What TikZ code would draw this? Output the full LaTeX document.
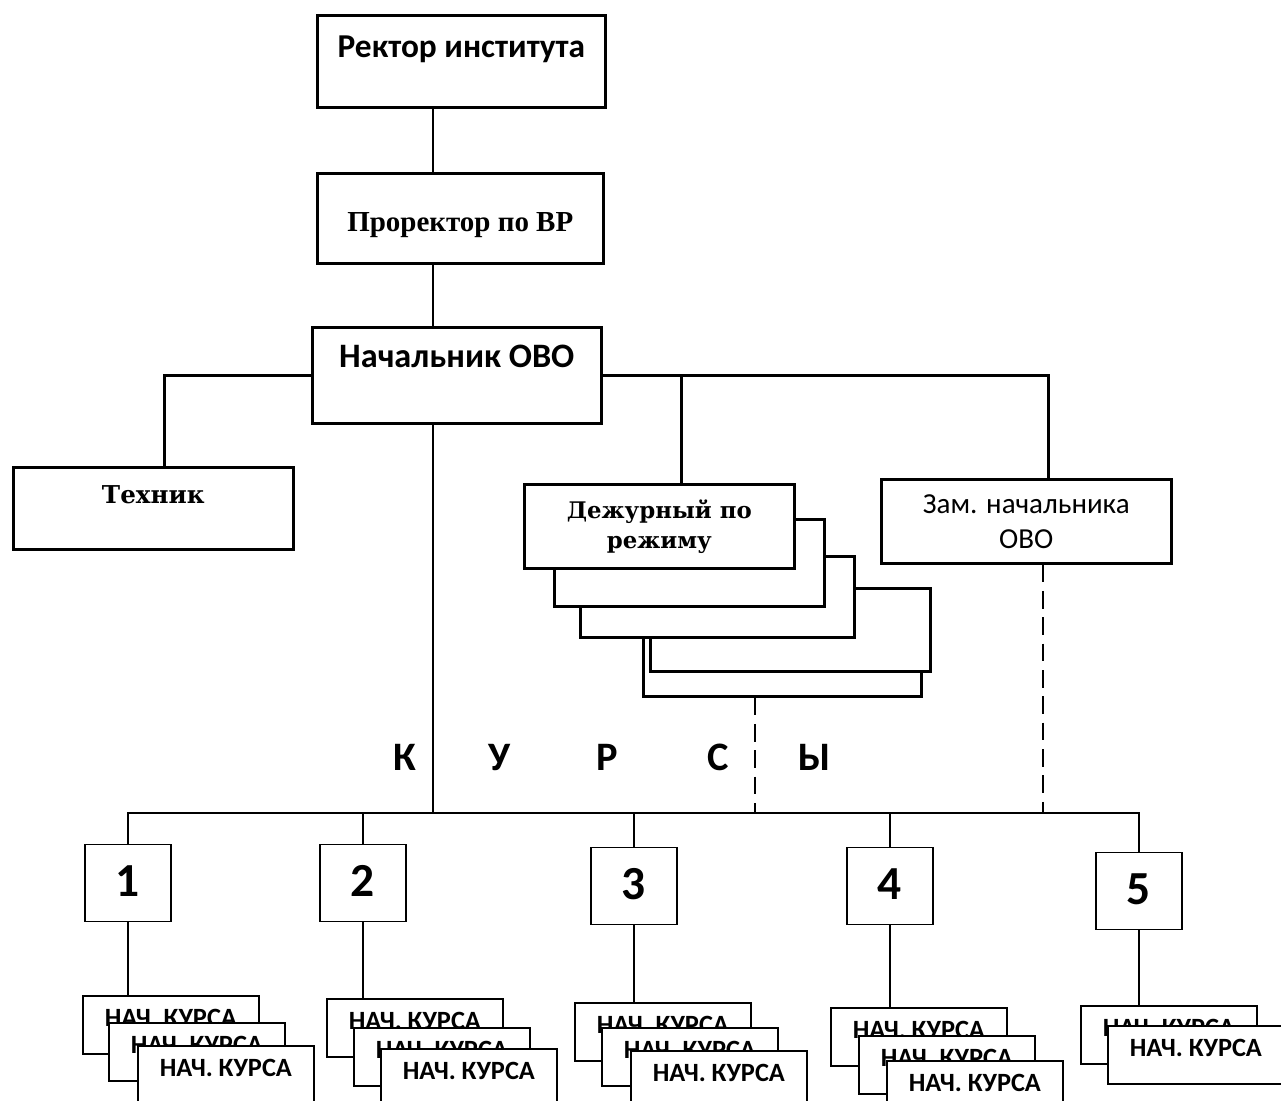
\documentclass[tikz,border=0pt]{standalone}
\usepackage{fontspec}
\setmainfont{Carlito}
\newfontfamily\timesbold{Liberation Serif}
\newfontfamily\widebold{DejaVu Serif}
\usepackage{tikz}
\usetikzlibrary{positioning}

\begin{document}
\begin{tikzpicture}[
    x=0.02cm, y=-0.02cm,
    box/.style={draw, fill=white, line width=1.5pt, inner sep=0pt, anchor=north west, align=center},
    numbox/.style={draw, fill=white, line width=1pt, inner sep=0pt, minimum width=1.72cm, text height=1.04cm, text depth=0.5cm, font=\bfseries\fontsize{27}{30}\selectfont},
    kurs/.style={draw, fill=white, line width=1pt, inner sep=0pt, anchor=north west, minimum width=3.52cm, text height=0.62cm, text depth=0.54cm, font=\bfseries\fontsize{15}{17}\selectfont},
    letter/.style={anchor=base, font=\bfseries\fontsize{23}{26}\selectfont},
    link/.style={line width=1.5pt},
    thin/.style={line width=1pt},
    dashline/.style={line width=1.5pt, dash pattern=on 10pt off 5pt}
]
    \useasboundingbox (0,0) rectangle (1281,1101);
    \clip (0,0) rectangle (1281,1101);

    % top of the chart
    \node[box, minimum width=5.76cm, text height=0.85cm, text depth=0.99cm, font=\bfseries\fontsize{19}{22}\selectfont] (rector) at (316,14) {Ректор института};
    \node[box, minimum width=5.72cm, text height=1.16cm, text depth=0.64cm, font=\timesbold\bfseries\fontsize{16.5}{20}\selectfont] (prorector) at (316,172) {Проректор по ВР};
    \node[box, minimum width=5.78cm, text height=0.8cm, text depth=1.12cm, font=\bfseries\fontsize{19.5}{22}\selectfont] (nach) at (311,326) {Начальник ОВО};

    \node[box, minimum width=5.6cm, text height=0.72cm, text depth=0.92cm, font=\widebold\bfseries\fontsize{14}{16}\selectfont] (tekhnik) at (12,466) {Техник};

    % stack of duty officers
    \node[box, minimum width=5.56cm, minimum height=1.9cm] (deze) at (642,600) {};
    \node[box, minimum width=5.6cm, minimum height=1.66cm] (dezd) at (649,587) {};
    \node[box, minimum width=5.48cm, minimum height=1.62cm] (dezc) at (579,555) {};
    \node[box, minimum width=5.4cm, minimum height=1.74cm] (dezb) at (553,518) {};
    \node[box, minimum width=5.4cm, minimum height=1.68cm, font=\widebold\bfseries\fontsize{13}{17}\selectfont] (dez) at (523,483) {Дежурный по\\режиму};

    \node[box, minimum width=5.8cm, minimum height=1.68cm, font=\fontsize{16.5}{20}\selectfont] (zam) at (880,478) {Зам. начальника\\ОВО};

    \coordinate (spine) at (433,0);
    \coordinate (bus) at (0,813);
    \coordinate (dv) at (755,0);
    \coordinate (zv) at (1043,0);

    \draw[link] (rector.south -| spine) -- (prorector.north -| spine);
    \draw[link] (prorector.south -| spine) -- (nach.north -| spine);
    \draw[link] (nach.south -| spine) -- (spine |- bus);
    \draw[link] (nach.west) -| ([xshift=0.22cm]tekhnik.north);
    \draw[link] (nach.east) -| ([xshift=0.44cm]zam.north);
    \draw[link] ([xshift=0.44cm]dez.north) -- ([xshift=0.44cm]dez.north |- nach.east);
    \draw[dashline] (deze.south -| dv) -- (dv |- bus);
    \draw[dashline] (zam.south -| zv) -- (zv |- bus);

    \foreach \lt/\xx [count=\i] in {К/405, У/500, Р/607, С/718, Ы/815}
        \node[letter] (kursy\i) at (\xx,770) {\lt};

    % courses
    \foreach \i/\xx/\yy in {1/128/883, 2/363/883, 3/634/886, 4/890/886, 5/1139/891}
        \node[numbox] (n\i) at (\xx,\yy) {\i};

    \draw[thin] (n1.north) -- (n1.north |- bus) -- (n5.north |- bus) -- (n5.north);
    \foreach \i in {2,3,4}
        \draw[thin] (n\i.north) -- (n\i.north |- bus);

    \foreach \g/\s/\xx/\yy in {1/a/82/995, 1/b/108/1022, 1/c/137/1045,
                               2/a/326/998, 2/b/353/1027, 2/c/380/1048,
                               3/a/574/1002, 3/b/601/1027, 3/c/630/1050,
                               4/a/830/1007, 4/b/858/1035, 4/c/886/1060,
                               5/a/1080/1005, 5/b/1107/1025}
        \node[kurs] (k\g\s) at (\xx,\yy) {НАЧ. КУРСА};

    \foreach \i in {1,...,5}
        \draw[thin] (n\i.south) -- (n\i.south |- k\i a.north);
\end{tikzpicture}
\end{document}
